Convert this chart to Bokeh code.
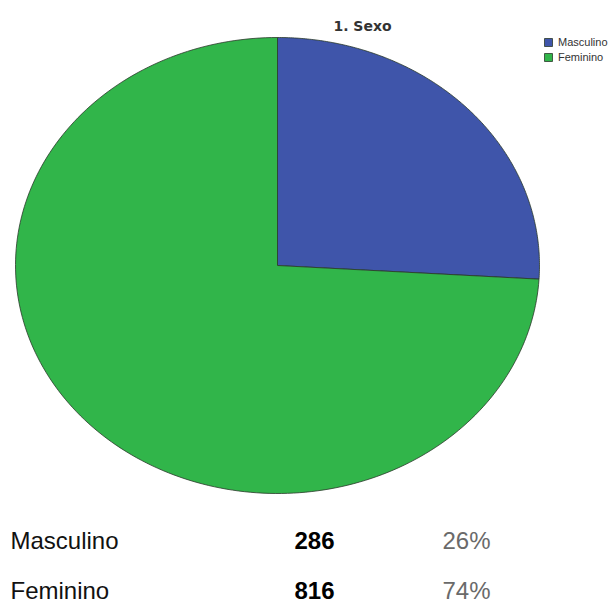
import numpy as np
from bokeh.plotting import figure
from bokeh.models import Range1d, Label, Legend, LegendItem, ColumnDataSource
from bokeh.embed import file_html
from bokeh.resources import INLINE

# ---- data ----
categories = ["Masculino", "Feminino"]
counts = [286, 816]
percent_labels = ["26%", "74%"]
colors = ["#3F55AA", "#31B54A"]
title_text = "1. Sexo"

# ---- geometry (screen layout) ----
W, H = 612, 603
cx, cy = 277, 265        # pie centre in screen px
rx, ry = 262, 228        # ellipse radii in px

p = figure(width=W, height=H, output_backend="svg", toolbar_location=None,
           x_range=Range1d(-cx / rx, (W - cx) / rx),
           y_range=Range1d(-(H - cy) / ry, cy / ry),
           min_border=0)
p.axis.visible = False
p.grid.visible = False
p.outline_line_color = None
p.background_fill_color = "white"

# pie slices: start at 12 o'clock, go clockwise
total = float(sum(counts))
xs, ys = [], []
start = np.pi / 2
for c in counts:
    sweep = 2 * np.pi * c / total
    th = np.linspace(start, start - sweep, 200)
    xs.append([0.0] + list(np.cos(th)) + [0.0])
    ys.append([0.0] + list(np.sin(th)) + [0.0])
    start -= sweep

src = ColumnDataSource(dict(xs=xs, ys=ys, color=colors, cat=categories))
r = p.patches("xs", "ys", source=src, fill_color="color",
              line_color="#2a3a2a", line_width=1, line_alpha=0.8)

# legend
legend = Legend(items=[LegendItem(label=categories[i], renderers=[r], index=i)
                       for i in range(len(categories))],
                location=(543, H - 63), glyph_width=10, glyph_height=10,
                label_text_font="Liberation Sans", label_text_font_size="11px",
                label_text_color="#333333", label_height=10, label_standoff=5,
                spacing=3, padding=0, margin=0, border_line_color=None,
                background_fill_alpha=0)
p.add_layout(legend, "center")

# title
p.add_layout(Label(x=362, y=H - 25, x_units="screen", y_units="screen",
                   text=title_text, text_font="DejaVu Sans", text_font_style="bold",
                   text_font_size="14px", text_color="#333333",
                   text_align="center", text_baseline="alphabetic"))

# table under the pie
baselines = [540, 590]
font = "Liberation Sans"
for i, cat in enumerate(categories):
    yb = H - baselines[i]
    p.add_layout(Label(x=10, y=yb, x_units="screen", y_units="screen", text=cat,
                       text_font=font, text_font_size="24px", text_color="#111111",
                       text_baseline="alphabetic"))
    p.add_layout(Label(x=294, y=yb, x_units="screen", y_units="screen", text=str(counts[i]),
                       text_font=font, text_font_style="bold", text_font_size="24px",
                       text_color="#000000", text_baseline="alphabetic"))
    p.add_layout(Label(x=442, y=yb, x_units="screen", y_units="screen", text=percent_labels[i],
                       text_font=font, text_font_size="24px", text_color="#6a6a6a",
                       text_baseline="alphabetic"))

open("out.html", "w").write(file_html(p, INLINE))
